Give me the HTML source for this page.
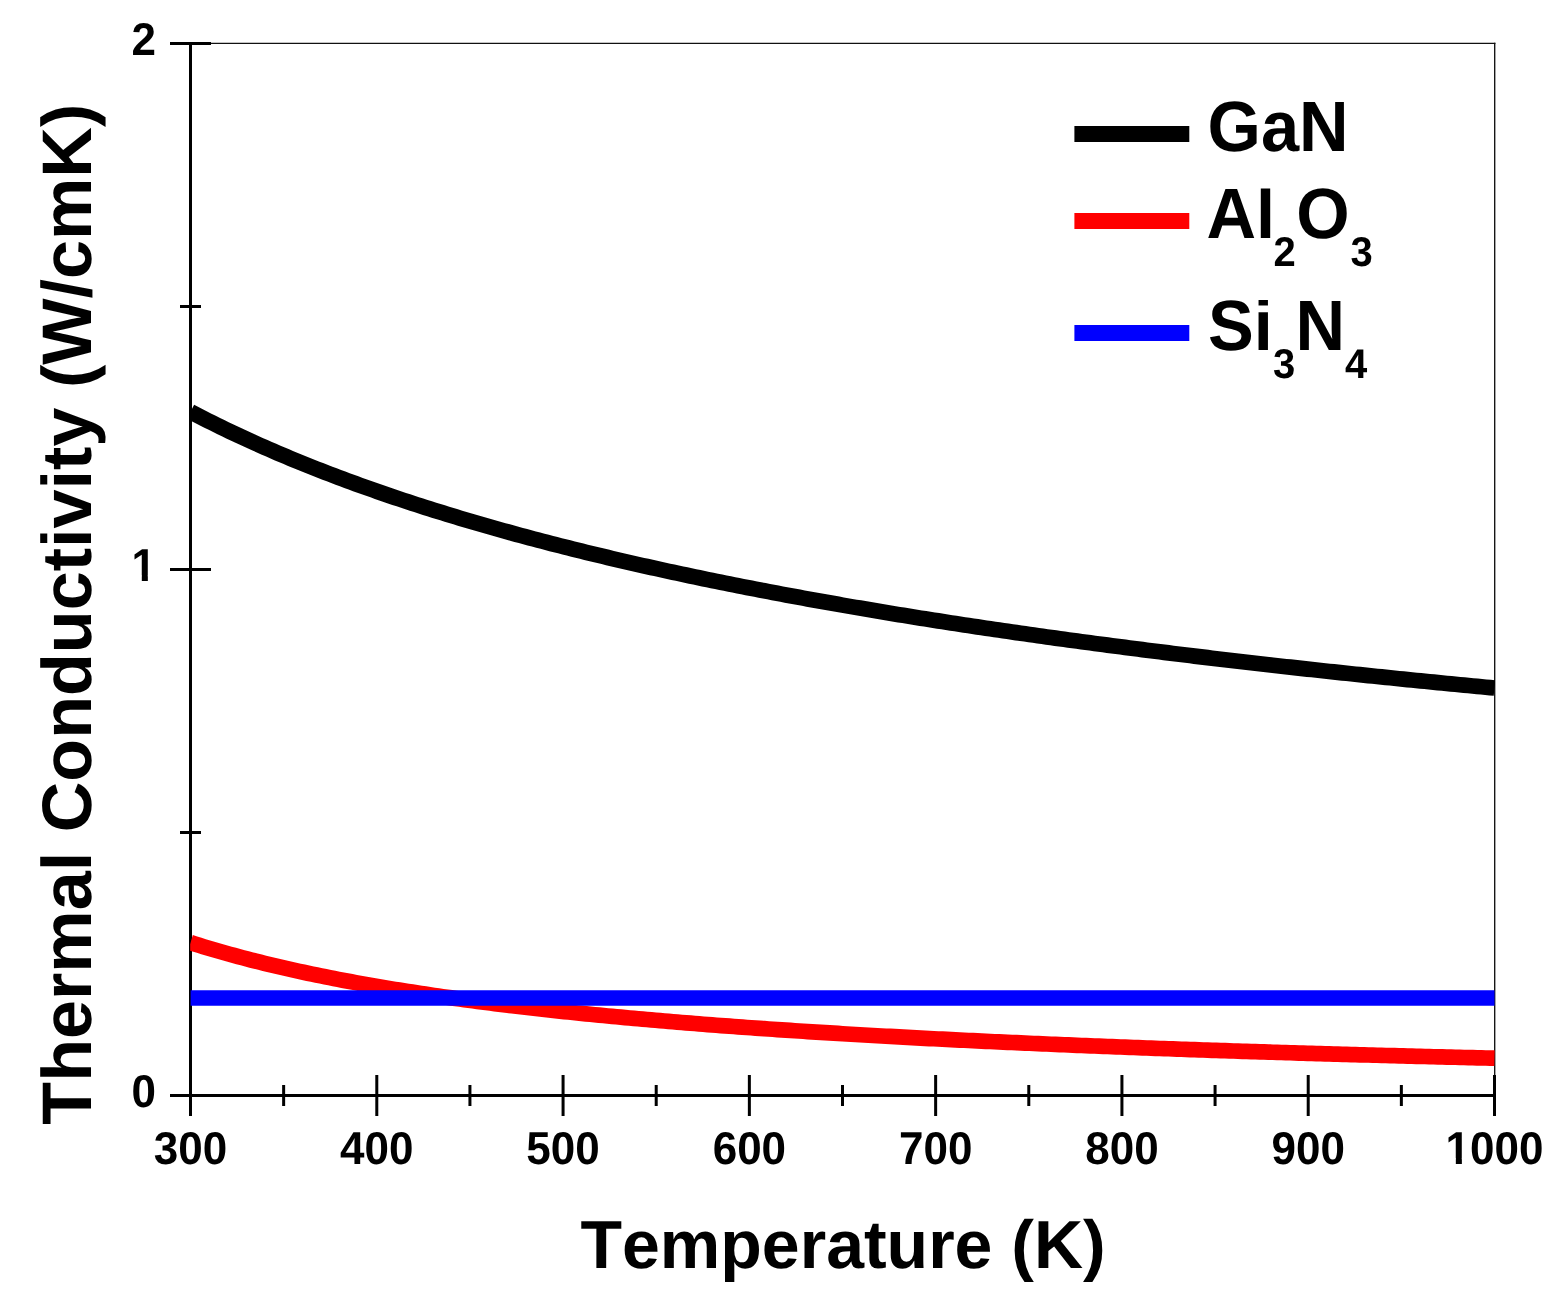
<!DOCTYPE html>
<html><head><meta charset="utf-8"><title>Thermal Conductivity</title>
<style>
html,body{margin:0;padding:0;background:#fff;}
svg{display:block;}
text{font-family:"Liberation Sans",Arial,sans-serif;font-weight:bold;fill:#000;font-kerning:none;font-feature-settings:"kern" 0;text-rendering:geometricPrecision;}
</style></head><body>
<svg width="1564" height="1310" viewBox="0 0 1564 1310">
<rect x="0" y="0" width="1564" height="1310" fill="#fff"/>
<defs><clipPath id="pc"><rect x="190.2" y="0" width="1304.8" height="1310"/></clipPath></defs>

<line x1="190.5" y1="43.4" x2="1495.4" y2="43.4" stroke="#111" stroke-width="1.35"/>
<line x1="1494.7" y1="42.8" x2="1494.7" y2="1095.5" stroke="#111" stroke-width="1.35"/>
<rect x="189" y="42" width="3" height="1074" fill="#000"/>
<rect x="170" y="1094" width="1325.0" height="3" fill="#000"/>
<rect x="170" y="1094.0" width="41" height="3" fill="#000"/>
<rect x="170" y="568.0" width="41" height="3" fill="#000"/>
<rect x="170" y="42.0" width="41" height="3" fill="#000"/>
<rect x="180" y="831.0" width="21" height="3" fill="#000"/>
<rect x="180" y="305.0" width="21" height="3" fill="#000"/>
<rect x="189.00" y="1075" width="3" height="41" fill="#000"/>
<rect x="375.29" y="1075" width="3" height="41" fill="#000"/>
<rect x="561.57" y="1075" width="3" height="41" fill="#000"/>
<rect x="747.86" y="1075" width="3" height="41" fill="#000"/>
<rect x="934.14" y="1075" width="3" height="41" fill="#000"/>
<rect x="1120.43" y="1075" width="3" height="41" fill="#000"/>
<rect x="1306.71" y="1075" width="3" height="41" fill="#000"/>
<rect x="1493.00" y="1075" width="3" height="41" fill="#000"/>
<rect x="282.14" y="1085" width="3" height="21" fill="#000"/>
<rect x="468.43" y="1085" width="3" height="21" fill="#000"/>
<rect x="654.71" y="1085" width="3" height="21" fill="#000"/>
<rect x="841.00" y="1085" width="3" height="21" fill="#000"/>
<rect x="1027.29" y="1085" width="3" height="21" fill="#000"/>
<rect x="1213.57" y="1085" width="3" height="21" fill="#000"/>
<rect x="1399.86" y="1085" width="3" height="21" fill="#000"/>
<g clip-path="url(#pc)" fill="none" stroke-linejoin="round" stroke-linecap="butt">
<polyline points="190.50,411.70 194.85,413.97 199.19,416.22 203.54,418.45 207.89,420.65 212.23,422.83 216.58,424.98 220.93,427.11 225.27,429.22 229.62,431.31 233.97,433.37 238.31,435.42 242.66,437.44 247.01,439.44 251.35,441.43 255.70,443.39 260.05,445.33 264.39,447.26 268.74,449.16 273.09,451.05 277.43,452.92 281.78,454.77 286.13,456.60 290.47,458.42 294.82,460.22 299.17,462.00 303.51,463.76 307.86,465.51 312.21,467.25 316.55,468.96 320.90,470.67 325.25,472.35 329.59,474.02 333.94,475.68 338.29,477.32 342.63,478.95 346.98,480.57 351.33,482.17 355.67,483.75 360.02,485.32 364.37,486.88 368.71,488.43 373.06,489.96 377.41,491.48 381.75,492.99 386.10,494.48 390.45,495.97 394.79,497.44 399.14,498.90 403.49,500.34 407.83,501.78 412.18,503.20 416.53,504.62 420.87,506.02 425.22,507.41 429.57,508.79 433.91,510.16 438.26,511.52 442.61,512.86 446.95,514.20 451.30,515.53 455.65,516.85 459.99,518.15 464.34,519.45 468.69,520.74 473.03,522.02 477.38,523.29 481.73,524.55 486.07,525.80 490.42,527.04 494.77,528.27 499.11,529.50 503.46,530.71 507.81,531.92 512.15,533.12 516.50,534.31 520.85,535.49 525.19,536.66 529.54,537.83 533.89,538.98 538.23,540.13 542.58,541.27 546.93,542.41 551.27,543.53 555.62,544.65 559.97,545.76 564.31,546.86 568.66,547.96 573.01,549.05 577.35,550.13 581.70,551.20 586.05,552.27 590.39,553.33 594.74,554.38 599.09,555.43 603.43,556.47 607.78,557.50 612.13,558.53 616.47,559.55 620.82,560.57 625.17,561.57 629.51,562.57 633.86,563.57 638.21,564.56 642.55,565.54 646.90,566.52 651.25,567.49 655.59,568.45 659.94,569.41 664.29,570.37 668.63,571.31 672.98,572.26 677.33,573.19 681.67,574.12 686.02,575.05 690.37,575.97 694.71,576.88 699.06,577.79 703.41,578.70 707.75,579.59 712.10,580.49 716.45,581.38 720.79,582.26 725.14,583.14 729.49,584.01 733.83,584.88 738.18,585.74 742.53,586.60 746.87,587.46 751.22,588.30 755.57,589.15 759.91,589.99 764.26,590.82 768.61,591.65 772.95,592.48 777.30,593.30 781.65,594.12 785.99,594.93 790.34,595.74 794.69,596.54 799.03,597.34 803.38,598.14 807.73,598.93 812.07,599.72 816.42,600.50 820.77,601.28 825.11,602.05 829.46,602.83 833.81,603.59 838.15,604.35 842.50,605.11 846.85,605.87 851.19,606.62 855.54,607.37 859.89,608.11 864.23,608.85 868.58,609.59 872.93,610.32 877.27,611.05 881.62,611.77 885.97,612.49 890.31,613.21 894.66,613.93 899.01,614.64 903.35,615.34 907.70,616.05 912.05,616.75 916.39,617.45 920.74,618.14 925.09,618.83 929.43,619.52 933.78,620.20 938.13,620.88 942.47,621.56 946.82,622.23 951.17,622.91 955.51,623.57 959.86,624.24 964.21,624.90 968.55,625.56 972.90,626.21 977.25,626.87 981.59,627.52 985.94,628.16 990.29,628.81 994.63,629.45 998.98,630.08 1003.33,630.72 1007.67,631.35 1012.02,631.98 1016.37,632.61 1020.71,633.23 1025.06,633.85 1029.41,634.47 1033.75,635.08 1038.10,635.69 1042.45,636.30 1046.79,636.91 1051.14,637.52 1055.49,638.12 1059.83,638.72 1064.18,639.31 1068.53,639.91 1072.87,640.50 1077.22,641.09 1081.57,641.67 1085.91,642.26 1090.26,642.84 1094.61,643.42 1098.95,643.99 1103.30,644.57 1107.65,645.14 1111.99,645.71 1116.34,646.27 1120.69,646.84 1125.03,647.40 1129.38,647.96 1133.73,648.52 1138.07,649.07 1142.42,649.63 1146.77,650.18 1151.11,650.72 1155.46,651.27 1159.81,651.81 1164.15,652.36 1168.50,652.90 1172.85,653.43 1177.19,653.97 1181.54,654.50 1185.89,655.03 1190.23,655.56 1194.58,656.09 1198.93,656.61 1203.27,657.13 1207.62,657.65 1211.97,658.17 1216.31,658.69 1220.66,659.20 1225.01,659.71 1229.35,660.22 1233.70,660.73 1238.05,661.24 1242.39,661.74 1246.74,662.25 1251.09,662.75 1255.43,663.24 1259.78,663.74 1264.13,664.24 1268.47,664.73 1272.82,665.22 1277.17,665.71 1281.51,666.20 1285.86,666.68 1290.21,667.16 1294.55,667.65 1298.90,668.13 1303.25,668.60 1307.59,669.08 1311.94,669.56 1316.29,670.03 1320.63,670.50 1324.98,670.97 1329.33,671.44 1333.67,671.90 1338.02,672.37 1342.37,672.83 1346.71,673.29 1351.06,673.75 1355.41,674.21 1359.75,674.66 1364.10,675.12 1368.45,675.57 1372.79,676.02 1377.14,676.47 1381.49,676.92 1385.83,677.37 1390.18,677.81 1394.53,678.25 1398.87,678.70 1403.22,679.14 1407.57,679.57 1411.91,680.01 1416.26,680.45 1420.61,680.88 1424.95,681.31 1429.30,681.74 1433.65,682.17 1437.99,682.60 1442.34,683.03 1446.69,683.45 1451.03,683.88 1455.38,684.30 1459.73,684.72 1464.07,685.14 1468.42,685.56 1472.77,685.97 1477.11,686.39 1481.46,686.80 1485.81,687.21 1490.15,687.62 1494.50,688.03" stroke="#000" stroke-width="15.7"/>
<polyline points="190.50,942.59 194.85,943.97 199.19,945.33 203.54,946.67 207.89,947.98 212.23,949.28 216.58,950.55 220.93,951.80 225.27,953.04 229.62,954.25 233.97,955.44 238.31,956.62 242.66,957.78 247.01,958.91 251.35,960.04 255.70,961.14 260.05,962.23 264.39,963.30 268.74,964.36 273.09,965.40 277.43,966.43 281.78,967.44 286.13,968.43 290.47,969.41 294.82,970.38 299.17,971.34 303.51,972.28 307.86,973.21 312.21,974.12 316.55,975.02 320.90,975.91 325.25,976.79 329.59,977.66 333.94,978.51 338.29,979.35 342.63,980.19 346.98,981.01 351.33,981.82 355.67,982.62 360.02,983.41 364.37,984.18 368.71,984.95 373.06,985.71 377.41,986.46 381.75,987.20 386.10,987.93 390.45,988.65 394.79,989.37 399.14,990.07 403.49,990.77 407.83,991.45 412.18,992.13 416.53,992.80 420.87,993.47 425.22,994.12 429.57,994.77 433.91,995.41 438.26,996.04 442.61,996.66 446.95,997.28 451.30,997.89 455.65,998.49 459.99,999.09 464.34,999.68 468.69,1000.26 473.03,1000.84 477.38,1001.41 481.73,1001.97 486.07,1002.53 490.42,1003.08 494.77,1003.63 499.11,1004.17 503.46,1004.70 507.81,1005.23 512.15,1005.75 516.50,1006.27 520.85,1006.78 525.19,1007.28 529.54,1007.78 533.89,1008.28 538.23,1008.77 542.58,1009.25 546.93,1009.73 551.27,1010.21 555.62,1010.68 559.97,1011.14 564.31,1011.60 568.66,1012.06 573.01,1012.51 577.35,1012.96 581.70,1013.40 586.05,1013.84 590.39,1014.27 594.74,1014.70 599.09,1015.13 603.43,1015.55 607.78,1015.96 612.13,1016.38 616.47,1016.79 620.82,1017.19 625.17,1017.59 629.51,1017.99 633.86,1018.38 638.21,1018.77 642.55,1019.16 646.90,1019.54 651.25,1019.92 655.59,1020.30 659.94,1020.67 664.29,1021.04 668.63,1021.41 672.98,1021.77 677.33,1022.13 681.67,1022.48 686.02,1022.84 690.37,1023.19 694.71,1023.53 699.06,1023.88 703.41,1024.22 707.75,1024.55 712.10,1024.89 716.45,1025.22 720.79,1025.55 725.14,1025.87 729.49,1026.20 733.83,1026.52 738.18,1026.83 742.53,1027.15 746.87,1027.46 751.22,1027.77 755.57,1028.08 759.91,1028.38 764.26,1028.68 768.61,1028.98 772.95,1029.28 777.30,1029.57 781.65,1029.87 785.99,1030.16 790.34,1030.44 794.69,1030.73 799.03,1031.01 803.38,1031.29 807.73,1031.57 812.07,1031.84 816.42,1032.12 820.77,1032.39 825.11,1032.66 829.46,1032.93 833.81,1033.19 838.15,1033.45 842.50,1033.72 846.85,1033.97 851.19,1034.23 855.54,1034.49 859.89,1034.74 864.23,1034.99 868.58,1035.24 872.93,1035.49 877.27,1035.73 881.62,1035.98 885.97,1036.22 890.31,1036.46 894.66,1036.69 899.01,1036.93 903.35,1037.17 907.70,1037.40 912.05,1037.63 916.39,1037.86 920.74,1038.09 925.09,1038.31 929.43,1038.54 933.78,1038.76 938.13,1038.98 942.47,1039.20 946.82,1039.42 951.17,1039.64 955.51,1039.85 959.86,1040.06 964.21,1040.28 968.55,1040.49 972.90,1040.69 977.25,1040.90 981.59,1041.11 985.94,1041.31 990.29,1041.52 994.63,1041.72 998.98,1041.92 1003.33,1042.12 1007.67,1042.31 1012.02,1042.51 1016.37,1042.71 1020.71,1042.90 1025.06,1043.09 1029.41,1043.28 1033.75,1043.47 1038.10,1043.66 1042.45,1043.85 1046.79,1044.03 1051.14,1044.22 1055.49,1044.40 1059.83,1044.58 1064.18,1044.76 1068.53,1044.94 1072.87,1045.12 1077.22,1045.30 1081.57,1045.48 1085.91,1045.65 1090.26,1045.83 1094.61,1046.00 1098.95,1046.17 1103.30,1046.34 1107.65,1046.51 1111.99,1046.68 1116.34,1046.85 1120.69,1047.01 1125.03,1047.18 1129.38,1047.34 1133.73,1047.51 1138.07,1047.67 1142.42,1047.83 1146.77,1047.99 1151.11,1048.15 1155.46,1048.31 1159.81,1048.47 1164.15,1048.62 1168.50,1048.78 1172.85,1048.93 1177.19,1049.08 1181.54,1049.24 1185.89,1049.39 1190.23,1049.54 1194.58,1049.69 1198.93,1049.84 1203.27,1049.99 1207.62,1050.13 1211.97,1050.28 1216.31,1050.42 1220.66,1050.57 1225.01,1050.71 1229.35,1050.86 1233.70,1051.00 1238.05,1051.14 1242.39,1051.28 1246.74,1051.42 1251.09,1051.56 1255.43,1051.69 1259.78,1051.83 1264.13,1051.97 1268.47,1052.10 1272.82,1052.24 1277.17,1052.37 1281.51,1052.51 1285.86,1052.64 1290.21,1052.77 1294.55,1052.90 1298.90,1053.03 1303.25,1053.16 1307.59,1053.29 1311.94,1053.42 1316.29,1053.54 1320.63,1053.67 1324.98,1053.80 1329.33,1053.92 1333.67,1054.05 1338.02,1054.17 1342.37,1054.29 1346.71,1054.41 1351.06,1054.54 1355.41,1054.66 1359.75,1054.78 1364.10,1054.90 1368.45,1055.02 1372.79,1055.13 1377.14,1055.25 1381.49,1055.37 1385.83,1055.49 1390.18,1055.60 1394.53,1055.72 1398.87,1055.83 1403.22,1055.95 1407.57,1056.06 1411.91,1056.17 1416.26,1056.28 1420.61,1056.40 1424.95,1056.51 1429.30,1056.62 1433.65,1056.73 1437.99,1056.84 1442.34,1056.95 1446.69,1057.05 1451.03,1057.16 1455.38,1057.27 1459.73,1057.38 1464.07,1057.48 1468.42,1057.59 1472.77,1057.69 1477.11,1057.80 1481.46,1057.90 1485.81,1058.00 1490.15,1058.11 1494.50,1058.21" stroke="#ff0000" stroke-width="15.7"/>
<polyline points="190.50,997.98 842.50,997.98 1494.50,997.98" stroke="#0000ff" stroke-width="15.7"/>
</g>
<text transform="translate(156.00,1107.00) scale(1,1.046)" font-size="44" text-anchor="end">0</text>
<defs><clipPath id="c1"><rect x="0" y="0" width="1564" height="575.50"/><rect x="141.80" y="0" width="6.04" height="1310"/><rect x="156.00" y="0" width="1564" height="1310"/></clipPath></defs>
<g clip-path="url(#c1)"><text transform="translate(156.00,581.00) scale(1,1.046)" font-size="44" text-anchor="end">1</text></g>
<text transform="translate(156.00,55.00) scale(1,1.046)" font-size="44" text-anchor="end">2</text>
<text transform="translate(190.50,1163.80) scale(1,1.046)" font-size="44" text-anchor="middle">300</text>
<text transform="translate(376.79,1163.80) scale(1,1.046)" font-size="44" text-anchor="middle">400</text>
<text transform="translate(563.07,1163.80) scale(1,1.046)" font-size="44" text-anchor="middle">500</text>
<text transform="translate(749.36,1163.80) scale(1,1.046)" font-size="44" text-anchor="middle">600</text>
<text transform="translate(935.64,1163.80) scale(1,1.046)" font-size="44" text-anchor="middle">700</text>
<text transform="translate(1121.93,1163.80) scale(1,1.046)" font-size="44" text-anchor="middle">800</text>
<text transform="translate(1308.21,1163.80) scale(1,1.046)" font-size="44" text-anchor="middle">900</text>
<defs><clipPath id="c1000"><rect x="0" y="0" width="1564" height="1158.30"/><rect x="1455.83" y="0" width="6.04" height="1310"/><rect x="1470.03" y="0" width="1564" height="1310"/></clipPath></defs>
<g clip-path="url(#c1000)"><text transform="translate(1494.50,1163.80) scale(1,1.046)" font-size="44" text-anchor="middle">1000</text></g>
<text transform="translate(580.50,1268.00) scale(1,1.0)" font-size="68">Temperature (K)</text>
<text transform="translate(90.9,1124.7) rotate(-90) scale(1,1.0)" font-size="70.15">Thermal Conductivity (W/cmK)</text>
<rect x="1074.4" y="126" width="114.9" height="16" fill="#000"/>
<rect x="1074.4" y="213" width="114.9" height="16" fill="#ff0000"/>
<rect x="1074.4" y="325" width="114.9" height="16" fill="#0000ff"/>
<text transform="translate(1207.60,151.40) scale(1,1.0405)" font-size="68.6">GaN</text>
<defs><clipPath id="cAl"><rect x="1150" y="188.40" width="122.50" height="120"/><rect x="1272.50" y="168.40" width="200" height="140"/></clipPath></defs><g clip-path="url(#cAl)"><text transform="translate(1206.40,237.80) scale(1,1.0405)" font-size="68.6"><tspan x="0.00" y="0.000" font-size="68.6">Al</tspan><tspan x="67.20" y="26.814" font-size="40">2</tspan><tspan x="89.80" y="0.000" font-size="68.6">O</tspan><tspan x="144.00" y="27.102" font-size="40">3</tspan></text></g>
<defs><clipPath id="cSi"><rect x="1150" y="300.10" width="122.00" height="120"/><rect x="1272.00" y="280.10" width="200" height="140"/></clipPath></defs><g clip-path="url(#cSi)"><text transform="translate(1208.00,350.10) scale(1,1.0405)" font-size="68.6"><tspan x="0.00" y="0.000" font-size="68.6">Si</tspan><tspan x="65.10" y="27.006" font-size="40">3</tspan><tspan x="87.40" y="0.000" font-size="68.6">N</tspan><tspan x="137.10" y="27.006" font-size="40">4</tspan></text></g>
</svg></body></html>
